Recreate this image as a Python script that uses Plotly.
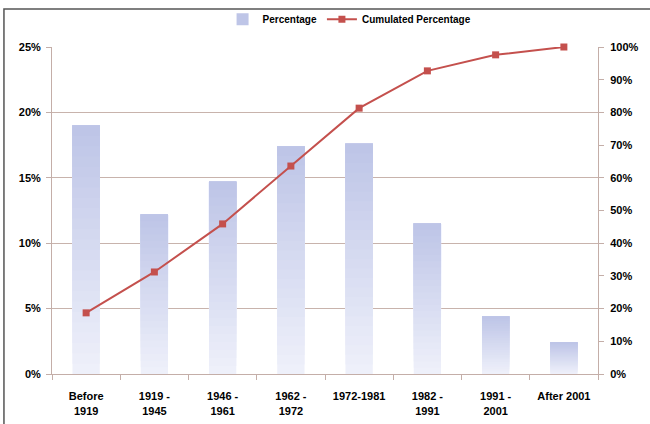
import plotly.graph_objects as go

categories = ["Before<br>1919", "1919 -<br>1945", "1946 -<br>1961", "1962 -<br>1972",
              "1972-1981", "1982 -<br>1991", "1991 -<br>2001", "After 2001"]
percentage = [0.190, 0.122, 0.147, 0.174, 0.176, 0.115, 0.044, 0.024]
cumulated = [0.187, 0.312, 0.459, 0.636, 0.813, 0.927, 0.976, 1.000]

N = 24
top_rgb = (190, 197, 231)
bot_rgb = (238, 240, 250)

FONT = "Liberation Sans, Arial, sans-serif"
fig = go.Figure()

for k in range(N):
    t = k / (N - 1)
    c = tuple(round(bot_rgb[i] + (top_rgb[i] - bot_rgb[i]) * t) for i in range(3))
    base = [h * k / N for h in percentage]
    hs = [h - b for h, b in zip(percentage, base)]
    fig.add_trace(go.Bar(
        x=categories, y=hs, base=base, width=0.4,
        marker=dict(color="rgb(%d,%d,%d)" % c, line=dict(width=0)),
        name="Percentage", showlegend=(k == N - 1),
        legendrank=1, hoverinfo="skip" if k < N - 1 else None,
        yaxis="y"))

fig.add_trace(go.Scatter(
    x=categories, y=cumulated, name="Cumulated Percentage", mode="lines+markers",
    line=dict(color="#c4504d", width=2), cliponaxis=False,
    marker=dict(symbol="square", size=7, color="#c4504d"),
    yaxis="y2", legendrank=2))

axcol = "#c4aea8"
fig.update_layout(
    width=650, height=424,
    margin=dict(l=52, r=52, t=47, b=50, autoexpand=False),
    paper_bgcolor="white", plot_bgcolor="white",
    barmode="overlay", bargap=0.6,
    font=dict(family=FONT, size=11, color="black", weight="bold"),
    showlegend=True,
    legend=dict(orientation="h", x=0.545, xanchor="center", y=1.085, yanchor="middle",
                font=dict(size=10, weight="bold"), traceorder="normal",
                bgcolor="rgba(0,0,0,0)"),
    xaxis=dict(showline=True, linecolor=axcol, linewidth=1, ticks="outside",
               tickson="boundaries", ticklen=5, tickcolor=axcol, ticklabelstandoff=12,
               tickfont=dict(size=11, weight="bold"), showgrid=False),
    yaxis=dict(range=[0, 0.25], dtick=0.05, tickformat=".0%", showline=True,
               linecolor=axcol, ticks="outside", ticklen=5, tickcolor=axcol,
               gridcolor="#c8b3ac", gridwidth=1, zeroline=False, ticklabelstandoff=3,
               tickfont=dict(size=11, weight="bold")),
    yaxis2=dict(range=[0, 1.0], dtick=0.1, tickformat=".0%", overlaying="y",
                side="right", showline=True, linecolor=axcol, ticks="outside",
                ticklen=5, tickcolor=axcol, showgrid=False, zeroline=False,
                ticklabelstandoff=4, tickfont=dict(size=11, weight="bold")),
    shapes=[dict(type="rect", xref="paper", yref="paper",
                 x0=-0.088, x1=1.2, y0=-0.3, y1=1.116,
                 line=dict(color="#555555", width=1.5), layer="above")],
)

fig.write_html("out.html", config={"displayModeBar": False},
               post_script="document.body.style.margin='0';")
